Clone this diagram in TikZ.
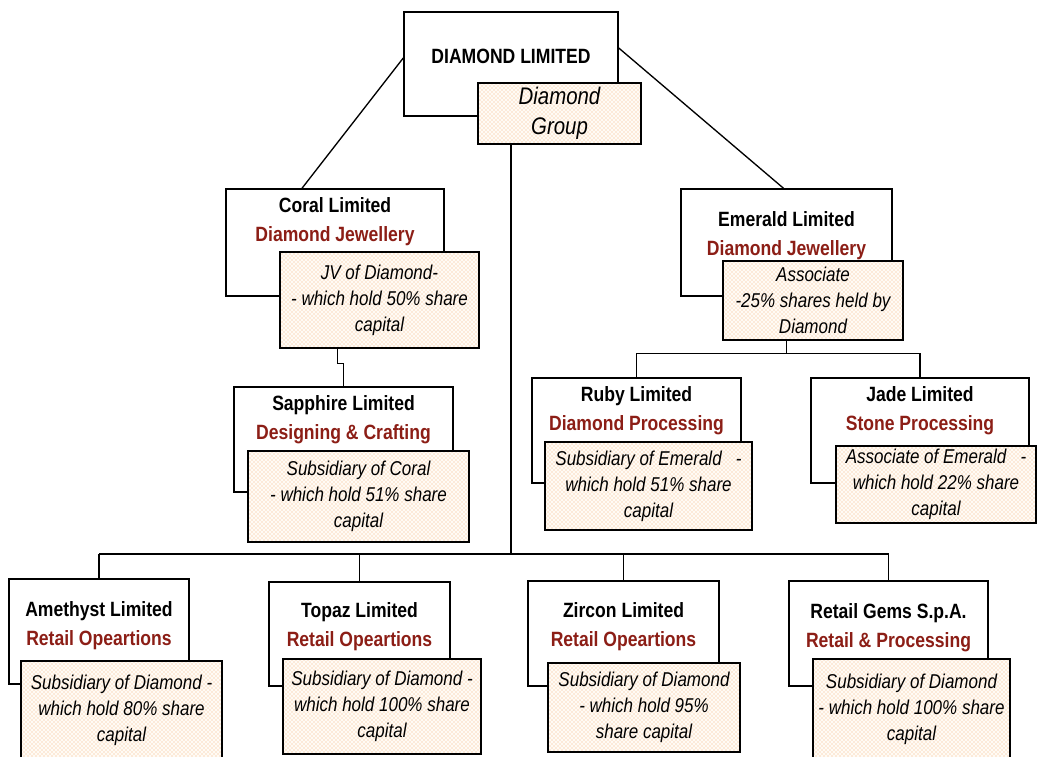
\documentclass[tikz,border=0pt]{standalone}
\usepackage{fontspec}
\setmainfont{Liberation Sans}[FakeStretch=0.85]
\usepackage{tikz}
\usetikzlibrary{patterns}

\definecolor{notefill}{RGB}{255,251,245}
\definecolor{notedots}{RGB}{244,180,125}
\definecolor{subred}{RGB}{140,30,22}

\newcommand{\firmfont}{\fontsize{15.5}{21.75}\selectfont\bfseries}
\newcommand{\notefont}{\fontsize{15}{19.5}\selectfont\itshape}
\newcommand{\sub}[1]{\textcolor{subred}{#1}}

\tikzset{
  firmbox/.style={draw, line width=1.1pt, fill=white, inner sep=0pt},
  notebox/.style={draw, line width=1.1pt, preaction={fill=notefill}, pattern={crosshatch dots}, pattern color=notedots, inner sep=0pt, align=center, font=\notefont},
  firmtext/.style={align=center, font=\firmfont, anchor=north, inner sep=0pt},
  link/.style={line width=1pt}
}

\begin{document}
\begin{tikzpicture}[x=0.75pt,y=0.75pt,yscale=-1,xscale=1]
\useasboundingbox[fill=white] (0,0) rectangle (1037,756);

%Shape: Rectangle -- parent
\node[firmbox, minimum width=160.5pt, minimum height=78pt] (diamond) at (511,64) {};
% Text Node
\node[inner sep=0pt, font=\firmfont] (diamondtxt) at (511,56.5) {DIAMOND LIMITED};
\node[notebox, minimum width=122.25pt, minimum height=45.75pt, font=\fontsize{18}{22.5}\selectfont\itshape] (group) at (559.5,113.5) {Diamond\\Group};

%Shape: Rectangle -- second level
\node[firmbox, minimum width=163.5pt, minimum height=80.25pt] (coral) at (335,242.5) {};
\node[firmtext] (coraltxt) at ([yshift=6.5pt]coral.north) {Coral Limited\\\sub{Diamond Jewellery}};
\node[notebox, minimum width=149.25pt, minimum height=72pt] (coralnote) at (379.5,300) {JV of Diamond-\\- which hold 50\% share\\capital};

\node[firmbox, minimum width=158.25pt, minimum height=80.25pt] (emerald) at (786.5,242.5) {};
\node[firmtext] (emeraldtxt) at ([yshift=17pt]emerald.north) {Emerald Limited\\\sub{Diamond Jewellery}};
\node[notebox, minimum width=135pt, minimum height=59.25pt] (emeraldnote) at (813,300.5) {Associate\\-25\% shares held by\\Diamond};

%Shape: Rectangle -- third level
\node[firmbox, minimum width=164.25pt, minimum height=78.75pt] (sapphire) at (343.5,439.5) {};
\node[firmtext] (sapphiretxt) at ([yshift=7pt]sapphire.north) {Sapphire Limited\\\sub{Designing \& Crafting}};
\node[notebox, minimum width=165.75pt, minimum height=68.25pt] (sapphirenote) at (358.5,496.5) {Subsidiary of Coral\\- which hold 51\% share\\capital};

\node[firmbox, minimum width=156.75pt, minimum height=78.75pt] (ruby) at (636.5,430.5) {};
\node[firmtext] (rubytxt) at ([yshift=7pt]ruby.north) {Ruby Limited\\\sub{Diamond Processing}};
\node[notebox, minimum width=155.25pt, minimum height=66pt] (rubynote) at (648.5,486) {Subsidiary of Emerald~~~-\\which hold 51\% share\\capital};

\node[firmbox, minimum width=163.5pt, minimum height=78.75pt] (jade) at (920,430.5) {};
\node[firmtext] (jadetxt) at ([yshift=7pt]jade.north) {Jade Limited\\\sub{Stone Processing}};
\node[notebox, minimum width=150pt, minimum height=57.75pt] (jadenote) at (936,484.5) {Associate of Emerald~~~-\\which hold 22\% share\\capital};

%Shape: Rectangle -- bottom row
\node[firmbox, minimum width=135pt, minimum height=78.75pt] (amethyst) at (99,631.5) {};
\node[firmtext] (amethysttxt) at ([yshift=17pt]amethyst.north) {Amethyst Limited\\\sub{Retail Opeartions}};
\node[notebox, minimum width=150.75pt, minimum height=73.5pt] (amethystnote) at (121.5,710) {Subsidiary of Diamond -\\which hold 80\% share\\capital};

\node[firmbox, minimum width=135.75pt, minimum height=78pt] (topaz) at (359.5,634) {};
\node[firmtext] (topaztxt) at ([yshift=16pt]topaz.north) {Topaz Limited\\\sub{Retail Opeartions}};
\node[notebox, minimum width=148.5pt, minimum height=71.25pt] (topaznote) at (382,706.5) {Subsidiary of Diamond -\\which hold 100\% share\\capital};

\node[firmbox, minimum width=143.25pt, minimum height=78.75pt] (zircon) at (623.5,633.5) {};
\node[firmtext] (zircontxt) at ([yshift=16.5pt]zircon.north) {Zircon Limited\\\sub{Retail Opeartions}};
\node[notebox, minimum width=144pt, minimum height=66.75pt] (zirconnote) at (644,707.5) {Subsidiary of Diamond\\- which hold 95\%\\share capital};

\node[firmbox, minimum width=149.25pt, minimum height=78.78pt] (gems) at (888.5,633.5) {};
\node[firmtext] (gemstxt) at ([yshift=17pt]gems.north) {Retail Gems S.p.A.\\\sub{Retail \& Processing}};
\node[notebox, minimum width=147.75pt, minimum height=75pt] (gemsnote) at (911.5,709) {Subsidiary of Diamond\\- which hold 100\% share\\capital};

%Straight Lines
\coordinate (bus) at (0,554);
\draw[link] ([shift={(0,-6)}]diamond.west) -- ([shift={(-33,0)}]coral.north);
\draw[link] ([shift={(0,-16)}]diamond.east) -- ([shift={(-3,0)}]emerald.north);
\draw[link] (diamond.south |- group.south) -- (diamond.south |- bus);
\draw[link] (amethyst.north |- bus) -- (gems.north |- bus);
\foreach \firm in {amethyst,topaz,zircon,gems}
  \draw[link] (\firm.north) -- (\firm.north |- bus);
\draw[link] ([shift={(-42,0)}]coralnote.south) -- ++(0,15) -| (sapphire.north);
\draw[link] (emerald.south |- emeraldnote.south) -- ++(0,13) coordinate (ebus);
\draw[link] (ruby.north) |- (jade.north |- ebus) -- (jade.north);

\end{tikzpicture}
\end{document}
